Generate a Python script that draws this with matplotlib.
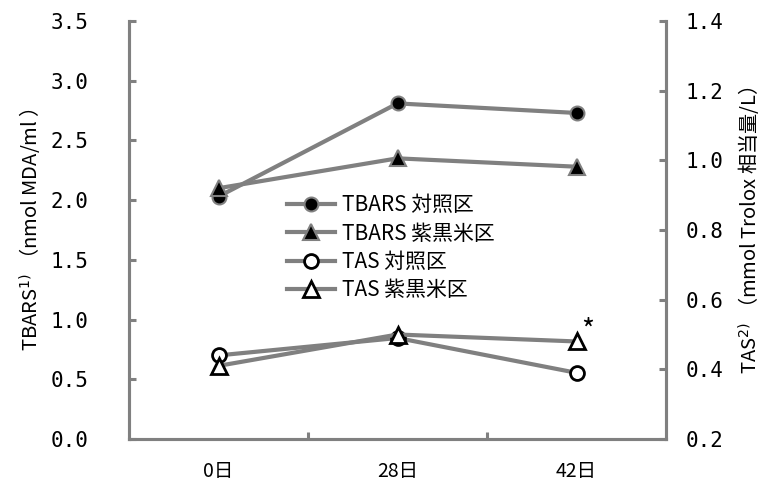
import matplotlib
matplotlib.use("Agg")
import matplotlib.pyplot as plt
import numpy as np

plt.rcParams['font.family'] = ['Noto Sans CJK JP', 'DejaVu Sans']

days = ["0日", "28日", "42日"]
tbars_control = [2.03, 2.81, 2.73]
tbars_black_rice = [2.10, 2.35, 2.28]
tas_control = [0.44, 0.49, 0.39]
tas_black_rice = [0.41, 0.50, 0.48]
left_ticks = [0.0, 0.5, 1.0, 1.5, 2.0, 2.5, 3.0, 3.5]
right_ticks = [0.2, 0.4, 0.6, 0.8, 1.0, 1.2, 1.4]

GRAY = "#808080"
x = np.arange(len(days))

fig = plt.figure(figsize=(7.69, 4.82), dpi=100)
ax = fig.add_axes([129/769, 43/482, 537/769, 418/482])
ax2 = ax.twinx()

lw = 3.0
ms = 10
h1, = ax.plot(x, tbars_control, color=GRAY, lw=lw, marker='o', ms=ms,
              mfc='black', mec=GRAY, mew=1.5, label="TBARS 対照区", zorder=3)
h2, = ax.plot(x, tbars_black_rice, color=GRAY, lw=lw, marker='^', ms=ms + 1,
              mfc='black', mec=GRAY, mew=1.5, label="TBARS 紫黒米区", zorder=3)
h3, = ax2.plot(x, tas_control, color=GRAY, lw=lw, marker='o', ms=ms,
               mfc='white', mec='black', mew=2, label="TAS 対照区", zorder=3)
h4, = ax2.plot(x, tas_black_rice, color=GRAY, lw=lw, marker='^', ms=ms + 1,
               mfc='white', mec='black', mew=2, label="TAS 紫黒米区", zorder=3)

# significance mark on the last black-rice TAS point
ax2.annotate("*", (x[2], tas_black_rice[2]), xytext=(8, 7),
             textcoords='offset points', fontsize=20, ha='center', va='center')

ax.set_xlim(-0.5, 2.5)
ax.set_ylim(0, 3.5)
ax2.set_ylim(0.2, 1.4)

ax.set_xticks(x)
ax.set_xticklabels(days, fontsize=14)
ax.set_xticks([0.5, 1.5], minor=True)
ax.tick_params(axis='x', which='major', length=0, pad=16)
ax.tick_params(axis='x', which='minor', direction='in', length=5, width=2.2, color=GRAY)

ax.set_yticks(left_ticks)
ax.set_yticklabels([f"{v:.1f}" for v in left_ticks], fontsize=15,
                   family=['DejaVu Sans Mono'])
ax.tick_params(axis='y', direction='in', length=5, width=2.2, color=GRAY, pad=29)

ax2.set_yticks(right_ticks)
ax2.set_yticklabels([f"{v:.1f}" for v in right_ticks], fontsize=15,
                    family=['DejaVu Sans Mono'])
ax2.tick_params(axis='y', direction='in', length=5, width=2.2, color=GRAY, pad=14)

for a in (ax, ax2):
    for side in ('left', 'right', 'bottom'):
        a.spines[side].set_color(GRAY)
        a.spines[side].set_linewidth(2.2)
    a.spines['top'].set_visible(False)

ax.set_ylabel("TBARS$^{1)}$ （nmol MDA/ml ）", fontsize=14.5, labelpad=5)
ax2.set_ylabel("TAS$^{2)}$ （mmol Trolox 相当量/L）", fontsize=14.5, labelpad=10,
               rotation=90)

leg = ax.legend(handles=[h1, h2, h3, h4], loc='upper left',
                bbox_to_anchor=(150/537, 253/418), frameon=False,
                fontsize=15, handlelength=2.3, handletextpad=0.3,
                labelspacing=0.3, borderaxespad=0)

fig.savefig("out.png", dpi=100)
